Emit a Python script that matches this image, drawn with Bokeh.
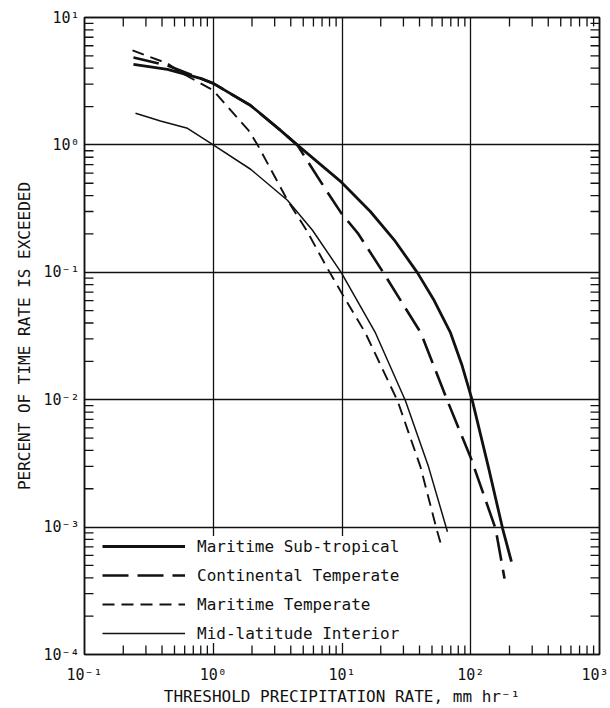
import math
from bokeh.plotting import figure
from bokeh.models import Range1d, FixedTicker, LogAxis, CustomJSTickFormatter
from bokeh.embed import file_html
from bokeh.resources import INLINE

# ---- data ----
ms_x = [0.240, 0.441, 0.796, 1.0, 1.95, 3.33, 4.49, 9.9, 16.6, 25.4, 38.6, 52, 69.7, 85, 103, 137, 177, 207]
ms_y = [4.28, 3.91, 3.33, 3.04, 2.04, 1.30, 1.0, 0.51, 0.30, 0.18, 0.099, 0.06, 0.0334, 0.019, 0.0098, 0.00297, 0.00097, 0.000536]

ct_x = [0.240, 0.441, 0.796, 1.0, 1.95, 3.33, 4.49, 7.23, 9.9, 13.4, 21, 41, 65.9, 100, 156, 183]
ct_y = [4.86, 4.2, 3.33, 3.04, 2.04, 1.30, 1.0, 0.47, 0.29, 0.2, 0.099, 0.0334, 0.0098, 0.0035, 0.00097, 0.000394]

mt_x = [0.236, 0.441, 0.557, 1.0, 1.88, 2.21, 3.77, 5.3, 7.6, 10, 15.2, 27, 40.7, 54.2, 58.2]
mt_y = [5.51, 4.36, 3.71, 2.68, 1.30, 1.0, 0.368, 0.214, 0.11, 0.068, 0.0334, 0.0098, 0.00297, 0.00097, 0.000755]

ml_x = [0.249, 0.389, 0.631, 1.0, 1.95, 3.77, 5.9, 9.9, 18.2, 31.1, 47, 65.9]
ml_y = [1.77, 1.54, 1.35, 1.0, 0.644, 0.368, 0.214, 0.099, 0.0334, 0.0098, 0.00297, 0.00092]

labels = ["Maritime Sub-tropical", "Continental Temperate", "Maritime Temperate", "Mid-latitude Interior"]

x_title = "THRESHOLD PRECIPITATION RATE, mm hr\u207b\u00b9"
y_title = "PERCENT OF TIME RATE IS EXCEEDED"

x_lo, x_hi = 0.1, 1000.0
y_lo, y_hi = 1e-4, 10.0

FONT = "DejaVu Sans Mono"
INK = "#111111"

major = [10.0 ** e for e in range(-4, 4)]
minor = [k * 10.0 ** e for e in range(-4, 3) for k in range(2, 10)]
minor_x = [v for v in minor if x_lo < v < x_hi]
minor_y = [v for v in minor if y_lo < v < y_hi]

p = figure(width=608, height=708, x_axis_type="log", y_axis_type="log",
           x_range=Range1d(x_lo, x_hi), y_range=Range1d(y_lo, y_hi),
           output_backend="svg", toolbar_location=None,
           min_border_left=84, min_border_right=9, min_border_top=17, min_border_bottom=53)
p.background_fill_color = "white"
p.border_fill_color = "white"
p.outline_line_color = INK
p.outline_line_width = 1.5

fmt = CustomJSTickFormatter(code="""
const e = Math.round(Math.log10(tick));
const sup = {"-": "\u207b", "0": "\u2070", "1": "\u00b9", "2": "\u00b2", "3": "\u00b3", "4": "\u2074"};
return "10" + String(e).split("").map(c => sup[c]).join("");
""")
empty = CustomJSTickFormatter(code="return '';")


def style(ax, show):
    ax.ticker = FixedTicker(ticks=major)
    ax.major_tick_in = 0
    ax.major_tick_out = 0
    ax.minor_tick_in = 0
    ax.minor_tick_out = 0
    ax.minor_tick_line_color = None
    ax.axis_line_color = INK
    ax.axis_line_width = 1.5
    if show:
        ax.formatter = fmt
        ax.major_label_text_font = FONT
        ax.major_label_text_font_size = "15px"
        ax.major_label_text_color = INK
        ax.axis_label_text_font = FONT
        ax.axis_label_text_font_size = "16px"
        ax.axis_label_text_font_style = "normal"
        ax.axis_label_text_color = INK
    else:
        ax.formatter = empty
        ax.major_label_text_font_size = "0px"
        ax.major_label_standoff = 0


style(p.xaxis[0], True)
style(p.yaxis[0], True)
p.xaxis[0].axis_label = x_title
p.yaxis[0].axis_label = y_title
p.xaxis[0].major_label_standoff = 11
p.xaxis[0].axis_label_standoff = 0
p.yaxis[0].major_label_standoff = 5
p.yaxis[0].axis_label_standoff = 6

top_ax = LogAxis()
right_ax = LogAxis()
style(top_ax, False)
style(right_ax, False)
p.add_layout(top_ax, "above")
p.add_layout(right_ax, "right")

for g in (p.xgrid[0], p.ygrid[0]):
    g.ticker = FixedTicker(ticks=major)
    g.grid_line_color = INK
    g.grid_line_alpha = 1.0
    g.grid_line_width = 1.3

p.line(ms_x, ms_y, line_width=2.8, line_color=INK, legend_label=labels[0])
p.line(ct_x, ct_y, line_width=2.6, line_color=INK, line_dash="26 9", legend_label=labels[1])
p.line(mt_x, mt_y, line_width=1.9, line_color=INK, line_dash="12 7", legend_label=labels[2])
p.line(ml_x, ml_y, line_width=1.5, line_color=INK, legend_label=labels[3])

# minor ticks on all four sides: dash markers centred on the frame edges
tick_kw = dict(marker="dash", size=18, line_color=INK, line_width=1.3)
p.scatter(minor_x, [y_lo] * len(minor_x), angle=math.pi / 2, **tick_kw)
p.scatter(minor_x, [y_hi] * len(minor_x), angle=math.pi / 2, **tick_kw)
p.scatter([x_lo] * len(minor_y), minor_y, angle=0, **tick_kw)
p.scatter([x_hi] * len(minor_y), minor_y, angle=0, **tick_kw)

lg = p.legend[0]
lg.location = (18, 11)
lg.border_line_color = None
lg.background_fill_color = "white"
lg.background_fill_alpha = 1.0
lg.label_text_font = FONT
lg.label_text_font_size = "16px"
lg.label_text_color = INK
lg.glyph_width = 83
lg.glyph_height = 20
lg.label_height = 20
lg.spacing = 9
lg.padding = 2
lg.label_standoff = 12
lg.margin = 0

open("out.html", "w").write(file_html(p, INLINE))
